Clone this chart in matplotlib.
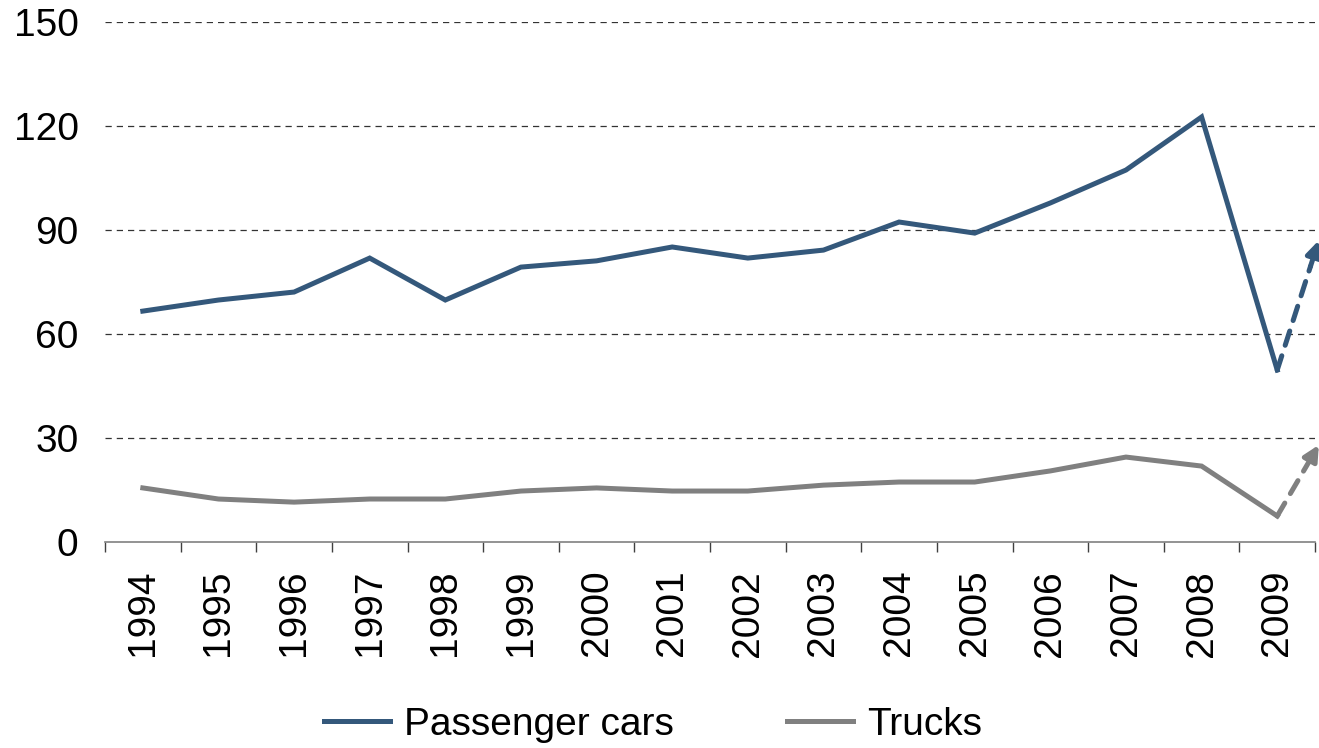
"""Passenger car and truck series, 1994-2009, with dashed outlook arrows"""

import matplotlib
matplotlib.use('Agg')
import matplotlib.pyplot as plt
import numpy as np

years = ['1994', '1995', '1996', '1997', '1998', '1999', '2000', '2001',
         '2002', '2003', '2004', '2005', '2006', '2007', '2008', '2009']
cars = [66.6, 69.8, 72.1, 81.9, 69.8, 79.3, 81.1, 85.1,
        81.9, 84.2, 92.3, 89.1, 97.8, 107.3, 122.6, 49.6]
trucks = [15.6, 12.4, 11.5, 12.4, 12.4, 14.7, 15.6, 14.7,
          14.7, 16.4, 17.3, 17.3, 20.5, 24.5, 21.9, 7.5]
# outlook arrows after 2009 (end value, reached a little past the last category)
cars_outlook = 87
trucks_outlook = 28
outlook_step = 0.55

car_color = '#34587b'
truck_color = '#808080'

plt.rcParams['font.family'] = ['Liberation Sans', 'DejaVu Sans']

fig = plt.figure(figsize=(13.19, 7.48), dpi=100)
ax = fig.add_axes([0.0796, 0.2754, 0.9174, 0.6952])

x = np.arange(len(years))
ax.plot(x, cars, color=car_color, lw=3.6, solid_joinstyle='miter',
        label='Passenger cars', zorder=3)
ax.plot(x, trucks, color=truck_color, lw=3.6, solid_joinstyle='miter',
        label='Trucks', zorder=3)

# dashed outlook arrows
for series, end, col in [(cars, cars_outlook, car_color),
                         (trucks, trucks_outlook, truck_color)]:
    x0, y0 = x[-1], series[-1]
    x1, y1 = x0 + outlook_step, end
    xm = x0 + (x1 - x0) * 0.8
    ym = y0 + (y1 - y0) * 0.8
    ax.plot([x0, xm], [y0, ym], color=col, lw=3.6, linestyle=(0, (3, 2.2)),
            dash_capstyle='round', clip_on=False, zorder=3)
    ax.annotate('', xy=(x1, y1), xytext=(xm, ym),
                arrowprops=dict(arrowstyle='-|>,head_length=0.9,head_width=0.45',
                                color=col, lw=3.6, shrinkA=0, shrinkB=0),
                annotation_clip=False, zorder=3)

ax.set_xlim(-0.5, len(years) - 0.5)
ax.set_ylim(0, 150)
ax.set_yticks([0, 30, 60, 90, 120, 150])
ax.set_xticks(x)
ax.set_xticklabels(years, rotation=90)
ax.set_xticks(np.arange(len(years) + 1) - 0.5, minor=True)

ax.tick_params(axis='y', length=0, pad=19, labelsize=28)
ax.tick_params(axis='x', which='major', length=0, pad=20, labelsize=28)
ax.tick_params(axis='x', which='minor', length=7, width=1, color='#404040',
               direction='out')

for s in ['left', 'right', 'top']:
    ax.spines[s].set_visible(False)
ax.spines['bottom'].set_color('#808080')
ax.spines['bottom'].set_linewidth(1.2)

for v in [30, 60, 90, 120, 150]:
    ax.axhline(v, color='#333333', lw=0.9, linestyle=(0, (5, 4)), zorder=1)

fig.legend(loc='center', bbox_to_anchor=(0.495, 0.031), ncol=2, frameon=False,
           fontsize=28, handlelength=1.7, handletextpad=0.36,
           columnspacing=2.9)

plt.savefig('out.png', dpi=100)
